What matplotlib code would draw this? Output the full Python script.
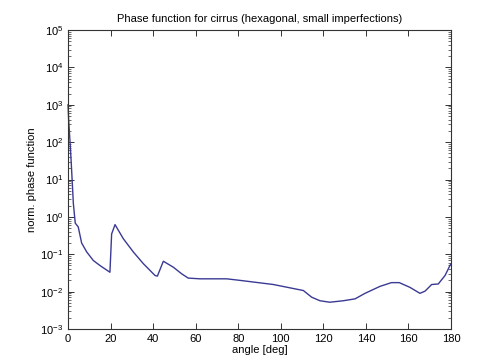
import matplotlib
matplotlib.use("Agg")
import matplotlib.pyplot as plt
from matplotlib.ticker import LogLocator, NullFormatter

# phase function (angle in deg, normalised value)
angle = [0.0, 0.3, 0.9, 1.4, 1.9, 2.5, 3.4, 4.8, 6.4, 8.8, 11.9, 15.0, 19.7,
         20.5, 22.1, 26.0, 30.7, 35.4, 40.9, 42.0, 44.8, 49.5, 53.4, 56.5,
         62.0, 74.6, 80.8, 96.5, 110.6, 114.5, 118.4, 123.0, 129.4, 134.9,
         139.6, 146.6, 152.0, 155.7, 160.7, 165.4, 167.8, 170.9, 174.0,
         177.2, 179.5, 180.0]
phase = [1000, 400, 110, 37, 10.7, 2.3, 0.68, 0.54, 0.2, 0.115, 0.068, 0.05,
         0.033, 0.35, 0.62, 0.26, 0.115, 0.056, 0.027, 0.026, 0.065, 0.045,
         0.030, 0.023, 0.022, 0.022, 0.020, 0.0155, 0.0107, 0.0071, 0.0057,
         0.0052, 0.0057, 0.0064, 0.009, 0.0138, 0.0174, 0.0174, 0.013, 0.009,
         0.0103, 0.0155, 0.016, 0.027, 0.05, 0.055]

x_ticks = list(range(0, 181, 20))

plt.rcParams["font.family"] = ["Liberation Sans", "DejaVu Sans"]
plt.rcParams["mathtext.default"] = "regular"
plt.rcParams["font.size"] = 8

fig = plt.figure(figsize=(4.8, 3.62), dpi=100)
ax = fig.add_axes([0.1417, 0.0912, 0.7979, 0.8258])

ax.semilogy(angle, phase, color="#3a3a94", linewidth=1.0, clip_on=False)

ax.set_xlim(0, 180)
ax.set_ylim(1e-3, 1e5)
ax.set_xticks(x_ticks)
ax.yaxis.set_major_locator(LogLocator(base=10, numticks=20))
ax.yaxis.set_minor_locator(LogLocator(base=10, subs=range(2, 10), numticks=20))
ax.yaxis.set_minor_formatter(NullFormatter())

ax.tick_params(which="both", direction="in", top=True, right=True,
               colors="#333333", labelcolor="black")
ax.tick_params(which="major", length=4, width=0.7)
ax.tick_params(which="minor", length=2, width=0.5)
for s in ax.spines.values():
    s.set_linewidth(0.8)
    s.set_color("#333333")

ax.set_title("Phase function for cirrus (hexagonal, small imperfections)",
             fontsize=8, pad=6)
ax.set_xlabel("angle [deg]", labelpad=1)
ax.set_ylabel("norm. phase function", labelpad=2)

fig.savefig("out.png", dpi=100, facecolor="white")
